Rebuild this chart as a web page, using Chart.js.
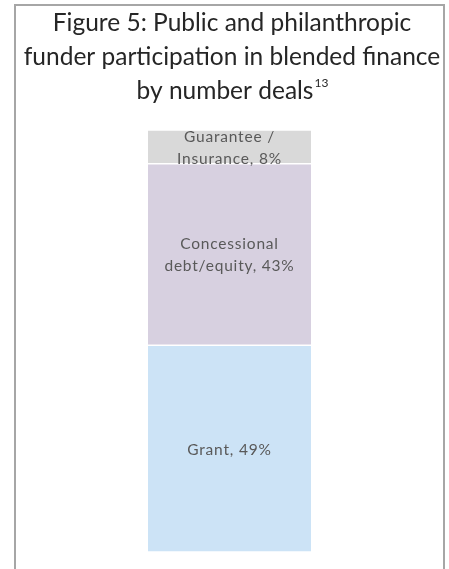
<!DOCTYPE html>
<html>
<head>
<meta charset="utf-8">
<script src="https://cdn.jsdelivr.net/npm/chart.js@4.4.0/dist/chart.umd.min.js"></script>
<style>
  html, body { margin: 0; padding: 0; background: #ffffff; }
  #wrap { width: 449px; height: 569px; position: relative; }
</style>
</head>
<body>
<div id="wrap"><canvas id="chart"></canvas></div>
<script>
// Data
const categories = ['Deals'];
const seriesNames = ['Grant', 'Concessional debt/equity', 'Guarantee / Insurance'];
const seriesValues = [49, 43, 8];
const seriesLabels = [['Grant, 49%'], ['Concessional', 'debt/equity, 43%'], ['Guarantee /', 'Insurance, 8%']];
const seriesColours = ['#cce3f6', '#d7d0e0', '#d9d9d9'];
const titleLines = ['Figure 5: Public and philanthropic', 'funder participation in blended finance', 'by number deals'];
const titleNote = '13';

const FONT = 'Lato, "Open Sans", sans-serif';

// frame round the figure and the title above the bar
const framePlugin = {
  id: 'frame',
  beforeDraw(chart) {
    const ctx = chart.ctx;
    ctx.save();
    ctx.strokeStyle = '#a6a6a6';
    ctx.lineWidth = 2;
    ctx.beginPath();
    ctx.moveTo(15, 575);
    ctx.lineTo(15, 5);
    ctx.lineTo(444, 5);
    ctx.lineTo(444, 575);
    ctx.stroke();

    ctx.fillStyle = '#262626';
    ctx.textBaseline = 'middle';
    const tf = '24.5px ' + FONT, nf = '12px ' + FONT;
    const cx = 232;
    const ys = [23, 57, 91];
    for (let i = 0; i < titleLines.length; i++) {
      ctx.font = tf;
      if (i == titleLines.length - 1) {
        // last line carries the footnote number
        const w = ctx.measureText(titleLines[i]).width;
        ctx.font = nf;
        const wn = ctx.measureText(titleNote).width;
        const x0 = cx - (w + wn) / 2;
        ctx.textAlign = 'left';
        ctx.font = tf;
        ctx.fillText(titleLines[i], x0, ys[i]);
        ctx.font = nf;
        ctx.fillText(titleNote, x0 + w + 1, ys[i] - 8);
      } else {
        ctx.textAlign = 'center';
        ctx.fillText(titleLines[i], cx, ys[i]);
      }
    }
    ctx.restore();
  }
};

// labels in the middle of each segment
const segmentLabels = {
  id: 'segmentLabels',
  afterDatasetsDraw(chart) {
    const ctx = chart.ctx;
    ctx.save();
    ctx.fillStyle = '#595959';
    ctx.font = '15.5px ' + FONT;
    ctx.letterSpacing = '0.8px';
    ctx.textAlign = 'center';
    ctx.textBaseline = 'middle';
    chart.data.datasets.forEach(function(ds, d) {
      const bar = chart.getDatasetMeta(d).data[0];
      const p = bar.getCenterPoint();
      const lines = seriesLabels[d];
      const lh = 22;
      for (let i = 0; i < lines.length; i++) {
        ctx.fillText(lines[i], p.x, p.y + (i - (lines.length - 1) / 2) * lh + 1);
      }
    });
    ctx.restore();
  }
};

const datasets = seriesNames.map(function(name, i) {
  return {
    label: name,
    data: [seriesValues[i]],
    backgroundColor: seriesColours[i],
    borderColor: '#ffffff',
    borderWidth: {top: 1, bottom: 1, left: 0, right: 0},
    borderSkipped: false,
    barPercentage: 1,
    categoryPercentage: 1
  };
});

new Chart(document.getElementById('chart'), {
  type: 'bar',
  data: { labels: categories, datasets: datasets },
  options: {
    responsive: true,
    maintainAspectRatio: false,
    animation: false,
    devicePixelRatio: 1,
    layout: { padding: { left: 148, right: 138, top: 130, bottom: 17 } },
    plugins: { legend: { display: false }, tooltip: { enabled: false }, title: { display: false } },
    scales: {
      x: { stacked: true, display: false },
      y: { stacked: true, display: false, min: 0, max: 100 }
    }
  },
  plugins: [framePlugin, segmentLabels]
});
</script>
</body>
</html>
